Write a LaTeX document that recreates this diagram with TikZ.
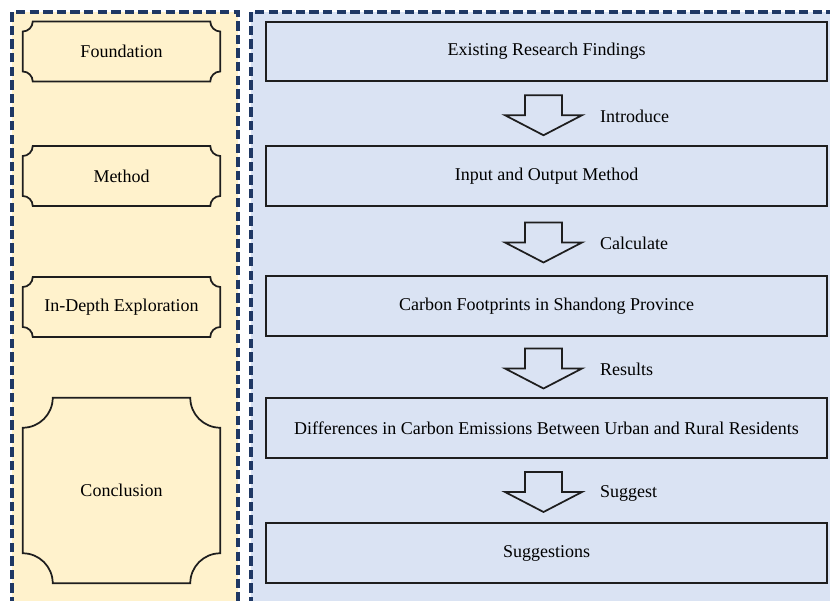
\documentclass[tikz,border=0pt]{standalone}
\usepackage{fontspec}
\setmainfont{Liberation Serif}
\usetikzlibrary{calc}
\definecolor{paleyellow}{HTML}{FFF2CC}
\definecolor{paleblue}{HTML}{DAE3F3}
\definecolor{navy}{HTML}{1F3864}
\definecolor{edge}{HTML}{1E1E1E}

\begin{document}
\begin{tikzpicture}[x=0.75pt,y=0.75pt]
            \tikzset{panel/.style={draw=navy, line width=2.6pt, dash pattern=on 7pt off 3.2pt}};
            \tikzset{txt/.style={text=black, font=\fontsize{13.5pt}{16pt}\selectfont}};
            \tikzset{stage/.style={txt, draw=edge, line width=1.3pt, fill=paleblue, minimum width=420.75pt, minimum height=44.6pt}};
            \tikzset{phase/.style={txt, minimum width=147.75pt, minimum height=44.6pt}};
            \tikzset{notch/.style={draw=edge, line width=1.3pt}};
            \tikzset{hollow/.style={draw=edge, line width=1.3pt, fill=paleblue, line join=miter}};
            
            \clip (0,0) rectangle (830,600);
            \fill[white] (0,0) rectangle (830,600);
            
            \draw[panel, fill=paleyellow] (12,-20) rectangle (238,588);
            \draw[panel, fill=paleblue] (251,-20) rectangle (850,588);
            
            % left column
            \node[phase] (found) at (121.5,548.5) {Foundation};
            \node[phase] (meth) at (121.5,424) {Method};
            \node[phase] (explo) at (121.5,293) {In-Depth Exploration};
            \node[phase, minimum height=138.75pt] (concl) at (121.5,109.5) {Conclusion};
            
            \foreach \n/\r in {found/7.5pt, meth/7.5pt, explo/7.5pt, concl/22.5pt}
                \draw[notch] ([xshift=\r]\n.north west) -- ([xshift=-\r]\n.north east)
                    arc[start angle=180, end angle=270, radius=\r]
                    -- ([yshift=\r]\n.south east)
                    arc[start angle=90, end angle=180, radius=\r]
                    -- ([xshift=\r]\n.south west)
                    arc[start angle=0, end angle=90, radius=\r]
                    -- ([yshift=-\r]\n.north west)
                    arc[start angle=270, end angle=360, radius=\r] -- cycle;
            
            % right column
            \node[stage] (b1) at (546.5,548.5) {Existing Research Findings};
            \node[stage] (b2) at (546.5,424) {Input and Output Method};
            \node[stage] (b3) at (546.5,294) {Carbon Footprints in Shandong Province};
            \node[stage] (b4) at (546.5,172) {Differences in Carbon Emissions Between Urban and Rural Residents};
            \node[stage] (b5) at (546.5,47) {Suggestions};
            
            \foreach \a/\b/\t in {b1/b2/Introduce, b2/b3/Calculate, b3/b4/Results, b4/b5/Suggest}{
                \coordinate (m) at ($(\a.south)!0.5!(\b.north)+(-3,-1.5)$);
                \draw[hollow] (m) ++(-18.5,20) -- ++(37,0) -- ++(0,-20) -- ++(20,0)
                    -- ++(-38.5,-20) -- ++(-38.5,20) -- ++(20,0) -- cycle;
                \node[txt, anchor=west] (\t) at ($(m)+(52,-1)$) {\t};
            }
        \end{tikzpicture}
\end{document}
